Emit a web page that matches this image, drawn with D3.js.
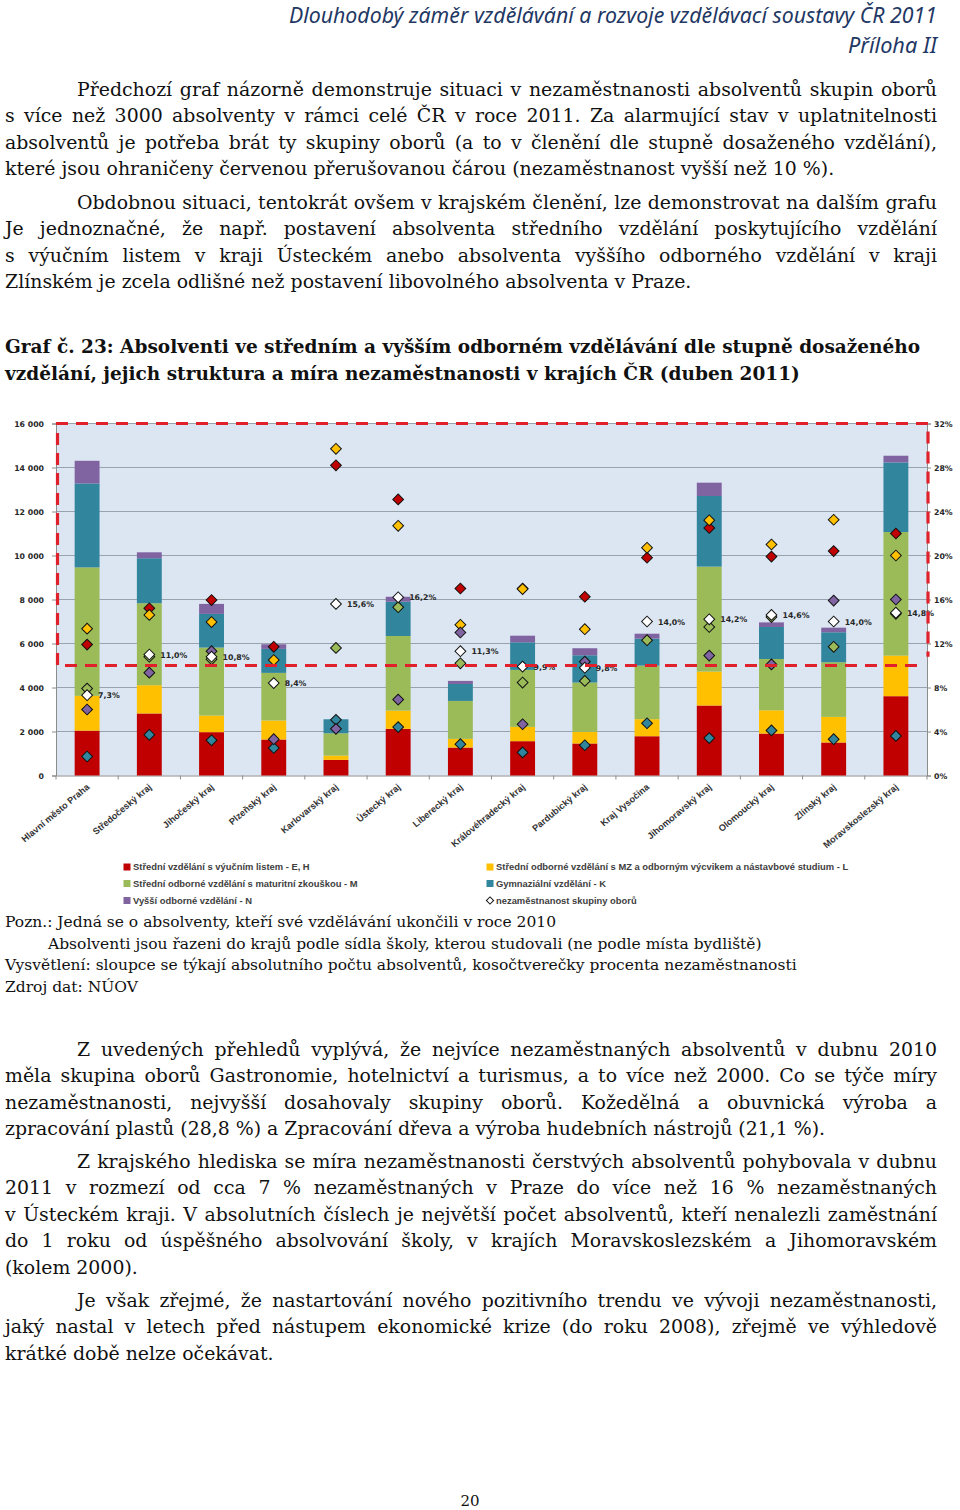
<!DOCTYPE html>
<html><head><meta charset="utf-8">
<script src="https://cdn.jsdelivr.net/npm/d3@7"></script>
<style>
body{margin:0;background:#fff;}
#page{position:relative;width:960px;height:1510px;overflow:hidden;background:#fff;}
.ln{position:absolute;white-space:nowrap;font-family:"DejaVu Serif";color:#111;line-height:1;}
svg{position:absolute;left:0;top:0;}
</style></head><body><div id="page"><svg id="chart" width="960" height="1510"></svg></div>
<script>
// ---------------- DATA ----------------
const categories = ["Hlavní město Praha","Středočeský kraj","Jihočeský kraj","Plzeňský kraj","Karlovarský kraj","Ústecký kraj","Liberecký kraj","Královéhradecký kraj","Pardubický kraj","Kraj Vysočina","Jihomoravský kraj","Olomoucký kraj","Zlínský kraj","Moravskoslezský kraj"];
const seriesNames = ["Střední vzdělání s výučním listem - E, H","Střední odborné vzdělání s MZ a odborným výcvikem a nástavbové studium - L","Střední odborné vzdělání s maturitní zkouškou - M","Gymnaziální vzdělání - K","Vyšší odborné vzdělání - N"];
const totalName = "nezaměstnanost skupiny oborů";
// graduates (absolute counts)
const gradEH = [2040,2820,1970,1635,710,2120,1270,1560,1455,1785,3180,1905,1500,3605];
const gradL  = [1580,1285,755,865,195,830,395,650,530,775,1545,1060,1165,1845];
const gradM  = [5840,3725,3090,2165,1015,3390,1725,2590,2240,2435,4770,2330,2485,5615];
const gradK  = [3815,2045,1530,1090,635,1560,770,1255,1240,1225,3210,1455,1360,3165];
const gradN  = [1030,270,455,210,0,225,140,300,320,225,605,210,210,305];
// unemployment (%)
const pctEH = [11.9,15.2,15.95,11.7,28.2,25.1,17.0,17.0,16.25,19.8,22.5,19.9,20.4,22.0];
const pctL  = [13.35,14.6,13.95,10.5,29.7,22.7,13.7,16.95,13.3,20.7,23.2,21.0,23.25,20.0];
const pctM  = [7.9,10.8,10.56,null,11.6,15.3,10.2,8.45,8.6,12.3,13.5,14.4,11.7,14.7];
const pctK  = [1.73,3.7,3.2,2.5,5.06,4.4,2.85,2.1,2.75,4.75,3.4,4.1,3.3,3.6];
const pctN  = [6.0,9.35,11.3,3.3,4.24,6.9,13.0,4.66,10.35,null,10.9,10.1,15.9,16.0];
const pctTotal = [7.3,11.0,10.8,8.4,15.6,16.2,11.3,9.9,9.8,14.0,14.2,14.6,14.0,14.8];
const leftTicks = [0,2000,4000,6000,8000,10000,12000,14000,16000];
const rightTicks = [0,4,8,12,16,20,24,28,32];
const threshold = 5000;

const colors = ["#c00000","#ffc000","#9bbb59","#31859c","#8064a2"];

// ---------------- TEXT ----------------
const page = document.getElementById('page');
function addLine(text, x, baseline, size, right, weight){
  const d = document.createElement('div');
  d.className = 'ln';
  d.style.fontSize = size + 'px';
  d.style.fontWeight = weight || 'normal';
  d.style.left = x + 'px';
  d.style.top = (baseline - size*0.846) + 'px';
  d.textContent = text;
  page.appendChild(d);
  if (right){
    const w = d.getBoundingClientRect().width;
    const n = (text.match(/ /g)||[]).length;
    if (n) d.style.wordSpacing = ((right - x - w)/n) + 'px';
  }
}
const BS = 18.9, R = 937;
const body = [
 ["Předchozí graf názorně demonstruje situaci v nezaměstnanosti absolventů skupin oborů",77,95.7,true],
 ["s více než 3000 absolventy v rámci celé ČR v roce 2011. Za alarmující stav v uplatnitelnosti",5,122.2,true],
 ["absolventů je potřeba brát ty skupiny oborů (a to v členění dle stupně dosaženého vzdělání),",5,148.7,true],
 ["které jsou ohraničeny červenou přerušovanou čárou (nezaměstnanost vyšší než 10 %).",5,175.2,false],
 ["Obdobnou situaci, tentokrát ovšem v krajském členění, lze demonstrovat na dalším grafu",77,208.5,true],
 ["Je jednoznačné, že např. postavení absolventa středního vzdělání poskytujícího vzdělání",5,235,true],
 ["s výučním listem v kraji Ústeckém anebo absolventa vyššího odborného vzdělání v kraji",5,261.5,true],
 ["Zlínském je zcela odlišné než postavení libovolného absolventa v Praze.",5,288,false],
 ["Z uvedených přehledů vyplývá, že nejvíce nezaměstnaných absolventů v dubnu 2010",77,1055.7,true],
 ["měla skupina oborů Gastronomie, hotelnictví a turismus, a to více než 2000. Co se týče míry",5,1082.2,true],
 ["nezaměstnanosti, nejvyšší dosahovaly skupiny oborů. Kožedělná a obuvnická výroba a",5,1108.7,true],
 ["zpracování plastů (28,8 %) a Zpracování dřeva a výroba hudebních nástrojů (21,1 %).",5,1135.2,false],
 ["Z krajského hlediska se míra nezaměstnanosti čerstvých absolventů pohybovala v dubnu",77,1167.7,true],
 ["2011 v rozmezí od cca 7 % nezaměstnaných v Praze do více než 16 % nezaměstnaných",5,1194.2,true],
 ["v Ústeckém kraji. V absolutních číslech je největší počet absolventů, kteří nenalezli zaměstnání",5,1220.7,true],
 ["do 1 roku od úspěšného absolvování školy, v krajích Moravskoslezském a Jihomoravském",5,1247.2,true],
 ["(kolem 2000).",5,1273.7,false],
 ["Je však zřejmé, že nastartování nového pozitivního trendu ve vývoji nezaměstnanosti,",77,1306.7,true],
 ["jaký nastal v letech před nástupem ekonomické krize (do roku 2008), zřejmě ve výhledově",5,1333.2,true],
 ["krátké době nelze očekávat.",5,1359.7,false]
];
body.forEach(l => addLine(l[0], l[1], l[2], BS, l[3] ? R : null));
addLine("Graf č. 23: Absolventi ve středním a vyšším odborném vzdělávání dle stupně dosaženého",5,354,18.5,null,'bold');
addLine("vzdělání, jejich struktura a míra nezaměstnanosti v krajích ČR (duben 2011)",5,380.5,18.5,null,'bold');
const NS = 15.5;
addLine("Pozn.: Jedná se o absolventy, kteří své vzdělávání ukončili v roce 2010",5,928,NS);
addLine("Absolventi jsou řazeni do krajů podle sídla školy, kterou studovali (ne podle místa bydliště)",48,949.7,NS);
addLine("Vysvětlení: sloupce se týkají absolutního počtu absolventů, kosočtverečky procenta nezaměstnanosti",5,971.3,NS);
addLine("Zdroj dat: NÚOV",5,993,NS);

// ---------------- CHART ----------------
const svg = d3.select('#chart');
// header
svg.append('text').attr('x',937).attr('y',23).attr('text-anchor','end')
  .attr('textLength',648).attr('lengthAdjust','spacingAndGlyphs')
  .style('font','italic 21px "Noto Sans"').attr('fill','#1f3864')
  .text("Dlouhodobý záměr vzdělávání a rozvoje vzdělávací soustavy ČR 2011");
svg.append('text').attr('x',937).attr('y',53).attr('text-anchor','end')
  .attr('textLength',89).attr('lengthAdjust','spacingAndGlyphs')
  .style('font','italic 21px "Noto Sans"').attr('fill','#1f3864')
  .text("Příloha II");
svg.append('text').attr('x',470).attr('y',1506).attr('text-anchor','middle')
  .style('font','15px "DejaVu Serif"').attr('fill','#111').text("20");

const X0 = 56, X1 = 927, Y0 = 775.5, YT = 423.5;
const x = d3.scaleBand().domain(categories).range([X0, X1]).paddingInner(0.6).paddingOuter(0.3);
const y = d3.scaleLinear().domain([0,16000]).range([Y0, YT]);
const yP = d3.scaleLinear().domain([0,32]).range([Y0, YT]);

svg.append('rect').attr('x',X0).attr('y',YT).attr('width',X1-X0).attr('height',Y0-YT).attr('fill','#dce6f2');
svg.append('g').selectAll('line').data(leftTicks.filter(d=>d>0)).join('line')
  .attr('x1',X0).attr('x2',X1).attr('y1',d=>y(d)).attr('y2',d=>y(d))
  .attr('stroke','#98a3ae').attr('stroke-width',1);

const fmtK = d => d3.format(",")(d).replace(/,/g,' ');
const gL = svg.append('g').attr('transform',`translate(${X0},0)`)
  .call(d3.axisLeft(y).tickValues(leftTicks).tickFormat(fmtK).tickSize(4).tickPadding(8));
const gR = svg.append('g').attr('transform',`translate(${X1},0)`)
  .call(d3.axisRight(yP).tickValues(rightTicks).tickFormat(d=>d+'%').tickSize(4).tickPadding(3));
[gL,gR].forEach(g=>{
  g.selectAll('path,line').attr('stroke','#8c8c8c');
  g.selectAll('text').style('font','bold 7.8px "DejaVu Sans"').attr('fill','#262626');
});
// bottom axis
svg.append('g').attr('transform',`translate(0,${Y0})`)
  .call(d3.axisBottom(x).tickSize(0).tickFormat(''))
  .selectAll('path').attr('stroke','#8c8c8c');
const gap = (x.step()-x.bandwidth())/2;
const bounds = categories.map(c=>x(c)-gap).concat([x(categories[categories.length-1])+x.bandwidth()+gap]);
svg.append('g').selectAll('line').data(bounds).join('line')
  .attr('x1',d=>d).attr('x2',d=>d).attr('y1',Y0).attr('y2',Y0+4).attr('stroke','#8c8c8c');
svg.append('g').selectAll('text').data(categories).join('text')
  .attr('transform',d=>`translate(${x(d)+x.bandwidth()/2+3},788) rotate(-40)`)
  .attr('text-anchor','end')
  .style('font','bold 9.2px "Liberation Sans"').attr('fill','#333')
  .text(d=>d);

// stacked bars
const rows = categories.map((c,i)=>({cat:c, s0:gradEH[i], s1:gradL[i], s2:gradM[i], s3:gradK[i], s4:gradN[i]}));
const keys = ['s0','s1','s2','s3','s4'];
const stacked = d3.stack().keys(keys)(rows);
svg.append('g').selectAll('g').data(stacked).join('g')
  .attr('fill',(d,i)=>colors[i])
  .selectAll('rect').data(d=>d).join('rect')
  .attr('x',d=>x(d.data.cat)).attr('width',x.bandwidth())
  .attr('y',d=>y(d[1])).attr('height',d=>y(d[0])-y(d[1]));

// diamonds
const pctSeries = [pctEH,pctL,pctM,pctK,pctN,pctTotal];
const pctColors = colors.concat(['#ffffff']);
const sym = d3.symbol(d3.symbolSquare, 58);
const gD = svg.append('g');
pctSeries.forEach((arr,si)=>{
  gD.append('g').selectAll('path')
    .data(categories.map((c,i)=>({c, v:arr[i]})).filter(d=>d.v!=null)).join('path')
    .attr('d',sym)
    .attr('transform',d=>`translate(${x(d.c)+x.bandwidth()/2},${yP(d.v)}) rotate(45)`)
    .attr('fill',pctColors[si]).attr('stroke','#111').attr('stroke-width',1);
});
svg.append('g').selectAll('text')
  .data(categories.map((c,i)=>({c, v:pctTotal[i]}))).join('text')
  .attr('x',d=>x(d.c)+x.bandwidth()/2+11).attr('y',d=>yP(d.v)+3)
  .style('font','bold 7.8px "DejaVu Sans"').attr('fill','#262626')
  .text(d=>d3.format(".1f")(d.v).replace('.',',')+'%');

// red dashed highlight
const xr = X1+1, xl = X0+1.5;
const pathD = d3.path();
pathD.moveTo(X1-10, y(threshold));
pathD.lineTo(xl, y(threshold));
pathD.lineTo(xl, y(16000));
pathD.lineTo(xr, y(16000));
pathD.lineTo(xr, y(5400));
svg.append('path').attr('d',pathD.toString()).attr('fill','none')
  .attr('stroke','#e0202a').attr('stroke-width',3.2).attr('stroke-dasharray','12,8');

// legend
const legItems = [
  {name:seriesNames[0], color:colors[0], col:0, row:0},
  {name:seriesNames[1], color:colors[1], col:1, row:0},
  {name:seriesNames[2], color:colors[2], col:0, row:1},
  {name:seriesNames[3], color:colors[3], col:1, row:1},
  {name:seriesNames[4], color:colors[4], col:0, row:2},
  {name:totalName, color:null, col:1, row:2}
];
const legX = [127, 490], legY = [867, 883.5, 900.5];
const gLeg = svg.append('g');
legItems.forEach(it=>{
  const cx = legX[it.col], cy = legY[it.row];
  if (it.color){
    gLeg.append('rect').attr('x',cx-3.5).attr('y',cy-3.5).attr('width',7).attr('height',7).attr('fill',it.color);
  } else {
    gLeg.append('path').attr('d',d3.symbol(d3.symbolSquare,26)()).attr('transform',`translate(${cx},${cy}) rotate(45)`)
      .attr('fill','#fff').attr('stroke','#111').attr('stroke-width',1);
  }
  gLeg.append('text').attr('x',cx+6).attr('y',cy+3.3)
    .style('font','bold 9.4px "Liberation Sans"').attr('fill','#404040').text(it.name);
});
</script></body></html>
